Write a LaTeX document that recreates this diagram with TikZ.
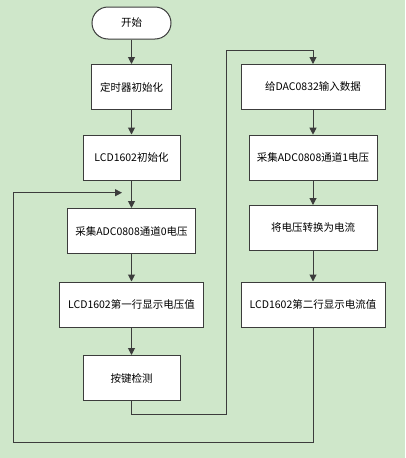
\documentclass[tikz,border=0pt]{standalone}
\usepackage{fontspec}
\newfontfamily\cjk{Noto Sans CJK SC}
\usetikzlibrary{arrows.meta}
\definecolor{bggreen}{RGB}{207,231,202}
\definecolor{linegray}{RGB}{60,60,60}
\begin{document}
\begin{tikzpicture}[x=1pt, y=-1pt, font=\cjk\fontsize{10.5}{12}\selectfont,
	box/.style={draw=linegray, fill=white, line width=1pt, minimum height=45pt, inner sep=0pt},
	flow/.style={-{Triangle[length=7pt,width=7pt]}, line width=1pt, draw=linegray}]
		\fill[bggreen] (0,0) rectangle (405,458);
		\useasboundingbox (0,0) rectangle (405,458);

		\node[box, minimum width=79pt, minimum height=32pt, rounded corners=16pt] (start) at (131.5, 23) {开始};
		\node[box, minimum width=80pt] (timer) at (131.5, 87) {定时器初始化};
		\node[box, minimum width=97pt] (lcdinit) at (131.5, 157.5) {LCD1602初始化};
		\node[box, minimum width=128pt] (adczero) at (131.5, 231) {采集ADC0808通道0电压};
		\node[box, minimum width=144pt] (showv) at (131.5, 304.5) {LCD1602第一行显示电压值};
		\node[box, minimum width=97pt] (key) at (131.5, 378) {按键检测};

		\node[box, minimum width=144pt] (dac) at (313, 87) {给DAC0832输入数据};
		\node[box, minimum width=128pt] (adcone) at (313, 157.7) {采集ADC0808通道1电压};
		\node[box, minimum width=128pt] (conv) at (313, 228) {将电压转换为电流};
		\node[box, minimum width=144pt] (showi) at (313, 304.5) {LCD1602第二行显示电流值};

		\coordinate (loopin) at (122, 192.7);
		\coordinate (outer) at (13.3, 442);
		\coordinate (keyout) at (226.7, 414.3);
		\coordinate (dacin) at (226.7, 50.7);

		\path (start) edge[flow] (timer)
		(timer) edge[flow] (lcdinit)
		(lcdinit) edge[flow] (adczero)
		(adczero) edge[flow] (showv)
		(showv) edge[flow] (key)
		(dac) edge[flow] (adcone)
		(adcone) edge[flow] (conv)
		(conv) edge[flow] (showi);

		\draw[flow] (key.south) |- (keyout) -- (dacin) -| (dac.north);
		\draw[flow] (showi.south) |- (outer) |- (loopin);
	\end{tikzpicture}
\end{document}
